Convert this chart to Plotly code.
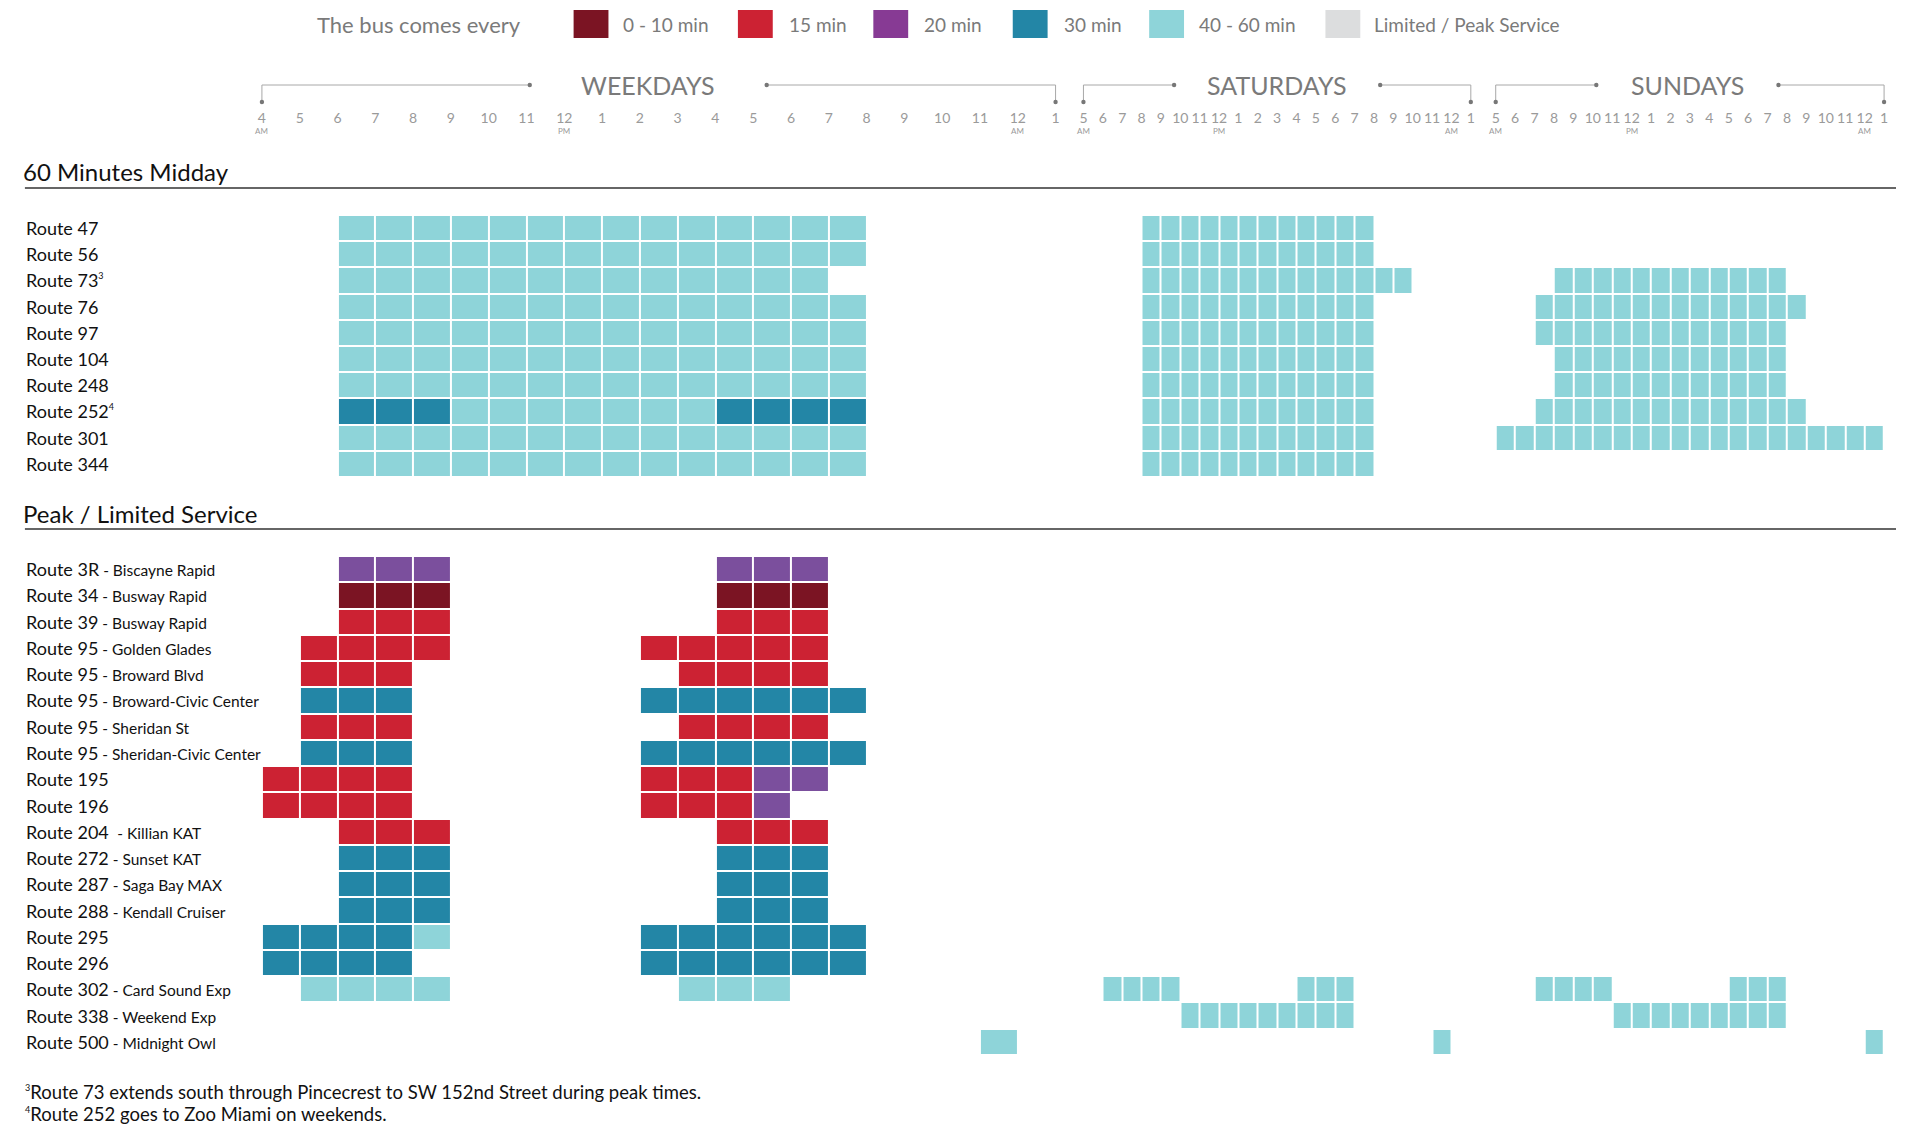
import plotly.graph_objects as go

W, H = 1907, 1128
FONT = "Lato, 'Open Sans', sans-serif"

# ---------------------------------------------------------------- data
# Frequency levels, in legend order
LEVEL_NAMES = ["0 - 10 min", "15 min", "20 min", "30 min", "40 - 60 min",
               "Limited / Peak Service"]
LEVEL_COLORS = ["#7b1423", "#cc2233", "#7b4f9d", "#2386a6", "#8ed4d9", "#dcddde"]
LEGEND_SWATCH = ["#7b1423", "#cc2233", "#873a94", "#2386a6", "#8ed4d9", "#dcddde"]
D10, F15, F20, F30, F60, LTD = range(6)

# Hour boundaries on each time axis (24h clock, 25 = 1 AM next day)
weekday_ticks = list(range(4, 26))
weekday_tick_text = ["4", "5", "6", "7", "8", "9", "10", "11", "12", "1", "2",
                     "3", "4", "5", "6", "7", "8", "9", "10", "11", "12", "1"]
weekend_ticks = list(range(5, 26))
weekend_tick_text = ["5", "6", "7", "8", "9", "10", "11", "12", "1", "2", "3",
                     "4", "5", "6", "7", "8", "9", "10", "11", "12", "1"]
ampm_weekday = [(4, "AM"), (12, "PM"), (24, "AM")]
ampm_weekend = [(5, "AM"), (12, "PM"), (24, "AM")]

SUP = "<sup><span style='font-size:9px'>{}</span></sup>"

# Section 1: 60 minutes midday -- service spans as (start hour, end hour, level)
midday_routes = ["Route 47", "Route 56", "Route 73" + SUP.format(3), "Route 76",
                 "Route 97", "Route 104", "Route 248", "Route 252" + SUP.format(4),
                 "Route 301", "Route 344"]
midday_weekday = [
    [(6, 20, F60)], [(6, 20, F60)], [(6, 19, F60)], [(6, 20, F60)],
    [(6, 20, F60)], [(6, 20, F60)], [(6, 20, F60)],
    [(6, 9, F30), (9, 16, F60), (16, 20, F30)],
    [(6, 20, F60)], [(6, 20, F60)],
]
midday_saturday = [
    [(8, 20, F60)], [(8, 20, F60)], [(8, 22, F60)], [(8, 20, F60)],
    [(8, 20, F60)], [(8, 20, F60)], [(8, 20, F60)], [(8, 20, F60)],
    [(8, 20, F60)], [(8, 20, F60)],
]
midday_sunday = [
    [], [], [(8, 20, F60)], [(7, 21, F60)], [(7, 20, F60)], [(8, 20, F60)],
    [(8, 20, F60)], [(7, 21, F60)], [(5, 25, F60)], [],
]

# Section 2: peak / limited service
peak_routes = ["Route 3R", "Route 34", "Route 39", "Route 95", "Route 95",
               "Route 95", "Route 95", "Route 95", "Route 195", "Route 196",
               "Route 204&nbsp;", "Route 272", "Route 287", "Route 288",
               "Route 295", "Route 296", "Route 302", "Route 338", "Route 500"]
peak_names = ["Biscayne Rapid", "Busway Rapid", "Busway Rapid", "Golden Glades",
              "Broward Blvd", "Broward-Civic Center", "Sheridan St",
              "Sheridan-Civic Center", "", "", "Killian KAT", "Sunset KAT",
              "Saga Bay MAX", "Kendall Cruiser", "", "", "Card Sound Exp",
              "Weekend Exp", "Midnight Owl"]
peak_weekday = [
    [(6, 9, F20), (16, 19, F20)],
    [(6, 9, D10), (16, 19, D10)],
    [(6, 9, F15), (16, 19, F15)],
    [(5, 9, F15), (14, 19, F15)],
    [(5, 8, F15), (15, 19, F15)],
    [(5, 8, F30), (14, 20, F30)],
    [(5, 8, F15), (15, 19, F15)],
    [(5, 8, F30), (14, 20, F30)],
    [(4, 8, F15), (14, 17, F15), (17, 19, F20)],
    [(4, 8, F15), (14, 17, F15), (17, 18, F20)],
    [(6, 9, F15), (16, 19, F15)],
    [(6, 9, F30), (16, 19, F30)],
    [(6, 9, F30), (16, 19, F30)],
    [(6, 9, F30), (16, 19, F30)],
    [(4, 8, F30), (8, 9, F60), (14, 20, F30)],
    [(4, 8, F30), (14, 20, F30)],
    [(5, 9, F60), (15, 18, F60)],
    [],
    [(23, 24, F60)],
]
peak_saturday = [[] for _ in range(16)] + [
    [(6, 10, F60), (16, 19, F60)],
    [(10, 19, F60)],
    [(23, 24, F60)],
]
peak_sunday = [[] for _ in range(16)] + [
    [(7, 11, F60), (17, 20, F60)],
    [(11, 20, F60)],
    [(24, 25, F60)],
]

footnotes = [
    SUP.format(3) + "Route 73 extends south through Pincecrest to SW 152nd Street during peak times.",
    SUP.format(4) + "Route 252 goes to Zoo Miami on weekends.",
]


# ---------------------------------------------------------------- helpers
def px(x):
    return x / W


def py(y):
    return 1 - y / H


def grid(spans_per_row, first_hour, last_hour):
    hours = list(range(first_hour, last_hour))
    z = []
    for spans in spans_per_row:
        row = [None] * len(hours)
        for start, end, level in spans:
            for h in range(start, end):
                row[h - first_hour] = level
        z.append(row)
    return [h + 0.5 for h in hours], z


n = len(LEVEL_COLORS)
colorscale = []
for i, c in enumerate(LEVEL_COLORS):
    colorscale += [[i / n, c], [(i + 1) / n, c]]


def heat(spans, first, last, xa, ya):
    x, z = grid(spans, first, last)
    return go.Heatmap(
        x=x, y=list(range(len(spans))), z=z, xaxis=xa, yaxis=ya,
        colorscale=colorscale, zmin=-0.5, zmax=n - 0.5, showscale=False,
        xgap=2, ygap=2, hoverongaps=False, hoverinfo="skip",
    )


fig = go.Figure()
fig.add_trace(heat(midday_weekday, 4, 25, "x", "y"))
fig.add_trace(heat(midday_saturday, 5, 25, "x2", "y"))
fig.add_trace(heat(midday_sunday, 5, 25, "x3", "y"))
fig.add_trace(heat(peak_weekday, 4, 25, "x4", "y2"))
fig.add_trace(heat(peak_saturday, 5, 25, "x5", "y2"))
fig.add_trace(heat(peak_sunday, 5, 25, "x6", "y2"))

# ---------------------------------------------------------------- axes
dom_wd = [px(259), px(1056)]
dom_sa = [px(1084), px(1473)]
dom_su = [px(1498), px(1888)]

tick_font = dict(family=FONT, size=14, color="#9a9a9a")


def top_axis(domain, rng, vals, text):
    return dict(domain=domain, range=rng, anchor="y", side="top",
                tickmode="array", tickvals=vals, ticktext=text,
                tickfont=tick_font, ticks="", showgrid=False,
                zeroline=False, showline=False, fixedrange=True)


def hidden_axis(domain, rng, anchor):
    return dict(domain=domain, range=rng, anchor=anchor, visible=False,
                fixedrange=True)


ROW_TOP1, ROW_BOT1 = 215, 477
pitch1 = (ROW_BOT1 - ROW_TOP1) / len(midday_routes)
AXIS_TOP1 = 127
top_range = [len(midday_routes) - 0.5, -0.5 - (ROW_TOP1 - AXIS_TOP1) / pitch1]

ROW_TOP2, ROW_BOT2 = 556, 1055

fig.update_layout(
    xaxis=top_axis(dom_wd, [4, 25], weekday_ticks, weekday_tick_text),
    xaxis2=top_axis(dom_sa, [5, 25], weekend_ticks, weekend_tick_text),
    xaxis3=top_axis(dom_su, [5, 25], weekend_ticks, weekend_tick_text),
    xaxis4=hidden_axis(dom_wd, [4, 25], "y2"),
    xaxis5=hidden_axis(dom_sa, [5, 25], "y2"),
    xaxis6=hidden_axis(dom_su, [5, 25], "y2"),
    yaxis=dict(domain=[py(ROW_BOT1), py(AXIS_TOP1)], range=top_range,
               anchor="x", visible=False, fixedrange=True),
    yaxis2=dict(domain=[py(ROW_BOT2), py(ROW_TOP2)],
                range=[len(peak_routes) - 0.5, -0.5], anchor="x4",
                visible=False, fixedrange=True),
    width=W, height=H, margin=dict(l=0, r=0, t=0, b=0),
    paper_bgcolor="white", plot_bgcolor="rgba(0,0,0,0)",
    font=dict(family=FONT), showlegend=False,
)

annotations = []
shapes = []

# AM / PM markers under the hour labels
for xa, marks in (("x", ampm_weekday), ("x2", ampm_weekend), ("x3", ampm_weekend)):
    for h, t in marks:
        annotations.append(dict(x=h, xref=xa, y=py(131), yref="paper", text=t,
                                showarrow=False, xanchor="center", yanchor="middle",
                                font=dict(family=FONT, size=8, color="#9a9a9a")))

# Day-type brackets with titles
LINE_Y, DOT_Y = 85, 102
brackets = [("x", "WEEKDAYS", 0.3375, 0.486, 0.636),
            ("x2", "SATURDAYS", 0.234, 0.499, 0.766),
            ("x3", "SUNDAYS", 0.259, 0.494, 0.728)]
bracket_line = dict(color="#a8a8a8", width=1)
for xa, title, left_end, mid, right_start in brackets:
    xr = xa + " domain"
    shapes += [
        dict(type="line", xref=xr, yref="paper", x0=0, x1=0, y0=py(DOT_Y), y1=py(LINE_Y), line=bracket_line),
        dict(type="line", xref=xr, yref="paper", x0=0, x1=left_end, y0=py(LINE_Y), y1=py(LINE_Y), line=bracket_line),
        dict(type="line", xref=xr, yref="paper", x0=right_start, x1=1, y0=py(LINE_Y), y1=py(LINE_Y), line=bracket_line),
        dict(type="line", xref=xr, yref="paper", x0=1, x1=1, y0=py(LINE_Y), y1=py(DOT_Y), line=bracket_line),
    ]
    for dx, dy in ((0, DOT_Y), (left_end, LINE_Y), (right_start, LINE_Y), (1, DOT_Y)):
        shapes.append(dict(type="circle", xref=xr, yref="paper", xsizemode="pixel",
                           ysizemode="pixel", xanchor=dx, yanchor=py(dy),
                           x0=-2.2, x1=2.2, y0=-2.2, y1=2.2,
                           fillcolor="#777", line=dict(width=0)))
    annotations.append(dict(x=mid, xref=xr, y=py(LINE_Y), yref="paper", text=title,
                            showarrow=False, xanchor="center", yanchor="middle",
                            font=dict(family=FONT, size=25, color="#7a7a7a")))

# Section headers with rules
for text, ty, ly in (("60 Minutes Midday", 171, 188),
                     ("Peak / Limited Service", 513, 529)):
    annotations.append(dict(x=px(17), xref="paper", y=py(ty), yref="paper", text=text,
                            showarrow=False, xanchor="left", yanchor="middle",
                            font=dict(family=FONT, size=24, color="#111")))
    shapes.append(dict(type="line", xref="paper", yref="paper", x0=px(21), x1=px(1900),
                       y0=py(ly), y1=py(ly), line=dict(color="#333", width=1.6)))

# Row labels
label_font = dict(family=FONT, size=18, color="#111")
for i, name in enumerate(midday_routes):
    annotations.append(dict(x=px(20), xref="paper", y=i, yref="y", text=name,
                            showarrow=False, xanchor="left", yanchor="middle",
                            font=label_font))
for i, (name, sub) in enumerate(zip(peak_routes, peak_names)):
    text = name if not sub else f"{name}<span style='font-size:15.5px'> - {sub}</span>"
    annotations.append(dict(x=px(20), xref="paper", y=i, yref="y2", text=text,
                            showarrow=False, xanchor="left", yanchor="middle",
                            font=label_font))

# Legend
legend_swatch_x = [572, 737, 873, 1013, 1150, 1327]
legend_text_x = [620, 786, 922, 1062, 1198, 1374]
annotations.append(dict(x=px(312), xref="paper", y=py(24), yref="paper",
                        text="The bus comes every", showarrow=False,
                        xanchor="left", yanchor="middle",
                        font=dict(family=FONT, size=22, color="#7a7a7a")))
for sx, tx, name, color in zip(legend_swatch_x, legend_text_x, LEVEL_NAMES, LEGEND_SWATCH):
    shapes.append(dict(type="rect", xref="paper", yref="paper", x0=px(sx), x1=px(sx + 35),
                       y0=py(10), y1=py(38), fillcolor=color, line=dict(width=0)))
    annotations.append(dict(x=px(tx), xref="paper", y=py(24), yref="paper", text=name,
                            showarrow=False, xanchor="left", yanchor="middle",
                            font=dict(family=FONT, size=19, color="#7a7a7a")))

# Footnotes
for k, note in enumerate(footnotes):
    annotations.append(dict(x=px(19), xref="paper", y=py(1092 + 22 * k), yref="paper",
                            text=note, showarrow=False, xanchor="left", yanchor="middle",
                            font=dict(family=FONT, size=18.5, color="#111")))

fig.update_layout(annotations=annotations, shapes=shapes)
fig.write_html("out.html")
